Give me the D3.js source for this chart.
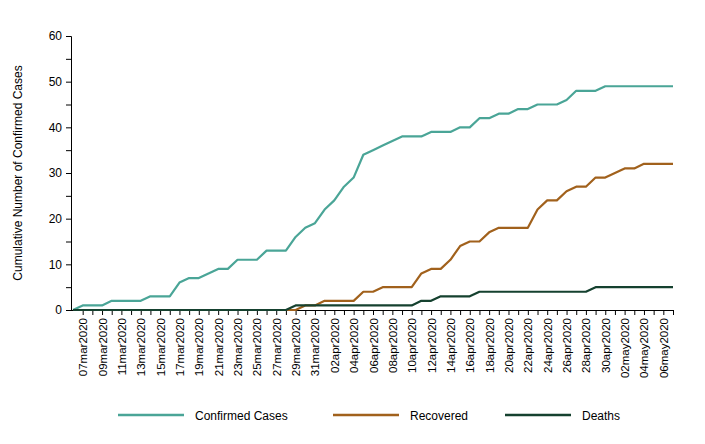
<!DOCTYPE html>
<html>
<head>
<meta charset="utf-8">
<script src="https://cdn.jsdelivr.net/npm/d3@7"></script>
<style>
  body { margin: 0; background: #fff; }
  svg { display: block; font-family: "Liberation Sans", Arial, sans-serif; }
</style>
</head>
<body>
<svg id="chart"></svg>
<script>
// daily values, 06mar2020 .. 07may2020
const startDate = new Date(2020, 2, 6);
const confirmed = [0, 1, 1, 1, 2, 2, 2, 2, 3, 3, 3, 6, 7, 7, 8, 9, 9, 11, 11, 11, 13, 13, 13,
  16, 18, 19, 22, 24, 27, 29, 34, 35, 36, 37, 38, 38, 38, 39, 39, 39, 40, 40, 42, 42, 43, 43,
  44, 44, 45, 45, 45, 46, 48, 48, 48, 49, 49, 49, 49, 49, 49, 49, 49];
const recovered = [0, 0, 0, 0, 0, 0, 0, 0, 0, 0, 0, 0, 0, 0, 0, 0, 0, 0, 0, 0, 0, 0, 0,
  0, 1, 1, 2, 2, 2, 2, 4, 4, 5, 5, 5, 5, 8, 9, 9, 11, 14, 15, 15, 17, 18, 18,
  18, 18, 22, 24, 24, 26, 27, 27, 29, 29, 30, 31, 31, 32, 32, 32, 32];
const deaths = [0, 0, 0, 0, 0, 0, 0, 0, 0, 0, 0, 0, 0, 0, 0, 0, 0, 0, 0, 0, 0, 0, 0,
  1, 1, 1, 1, 1, 1, 1, 1, 1, 1, 1, 1, 1, 2, 2, 3, 3, 3, 3, 4, 4, 4, 4,
  4, 4, 4, 4, 4, 4, 4, 4, 5, 5, 5, 5, 5, 5, 5, 5, 5];
const seriesNames = ["Confirmed Cases", "Recovered", "Deaths"];
const seriesColors = ["#4aa597", "#a1611c", "#15412f"];
const yTicks = [0, 10, 20, 30, 40, 50, 60];

const w = 705, h = 444;
const svg = d3.select("#chart").attr("width", w).attr("height", h);

const dates = confirmed.map((d, i) => d3.timeDay.offset(startDate, i));
const x = d3.scaleTime().domain([dates[0], dates[dates.length - 1]]).range([73, 673]);
const y = d3.scaleLinear().domain([0, 60]).range([310, 36]);

const months = ["jan","feb","mar","apr","may","jun","jul","aug","sep","oct","nov","dec"];
const fmt = d => d3.timeFormat("%d")(d) + months[d.getMonth()] + d.getFullYear();

// y axis
const yAxis = svg.append("g")
  .attr("transform", "translate(71,0)")
  .call(d3.axisLeft(y).tickValues(d3.range(0, 61, 5)).tickSize(5)
    .tickFormat(d => yTicks.includes(d) ? d : ""));
yAxis.select(".domain").attr("stroke", "#000");
yAxis.selectAll("text").attr("font-size", 12).attr("fill", "#000").attr("dx", -1);

svg.append("text")
  .attr("transform", "translate(22,173) rotate(-90)")
  .attr("text-anchor", "middle")
  .attr("font-size", 12)
  .attr("fill", "#000")
  .text("Cumulative Number of Confirmed Cases");

// x axis
const xAxis = svg.append("g")
  .attr("transform", "translate(0,310)")
  .call(d3.axisBottom(x).tickValues(dates.slice(1)).tickSize(5).tickSizeOuter(0)
    .tickFormat((d, i) => i % 2 === 0 ? fmt(d) : ""));
xAxis.select(".domain").attr("stroke", "#000").attr("d", "M71,0.5H673");
xAxis.selectAll("text")
  .attr("font-size", 11.5)
  .attr("fill", "#000")
  .attr("text-anchor", "end")
  .attr("transform", "rotate(-90)")
  .attr("x", -8)
  .attr("y", 0)
  .attr("dy", "0.35em");

// lines
const line = d3.line().x((d, i) => x(dates[i])).y(d => y(d));
[confirmed, recovered, deaths].forEach((s, k) => {
  svg.append("path")
    .datum(s)
    .attr("fill", "none")
    .attr("stroke", seriesColors[k])
    .attr("stroke-width", 2.2)
    .attr("stroke-linejoin", "round")
    .attr("d", line);
});

// legend
const legendX = [118, 333, 505];
seriesNames.forEach((name, k) => {
  svg.append("line")
    .attr("x1", legendX[k]).attr("x2", legendX[k] + 66)
    .attr("y1", 415).attr("y2", 415)
    .attr("stroke", seriesColors[k]).attr("stroke-width", 2.5);
  svg.append("text")
    .attr("x", legendX[k] + 77).attr("y", 419.5)
    .attr("font-size", 12).attr("fill", "#000")
    .text(name);
});
</script>
</body>
</html>
